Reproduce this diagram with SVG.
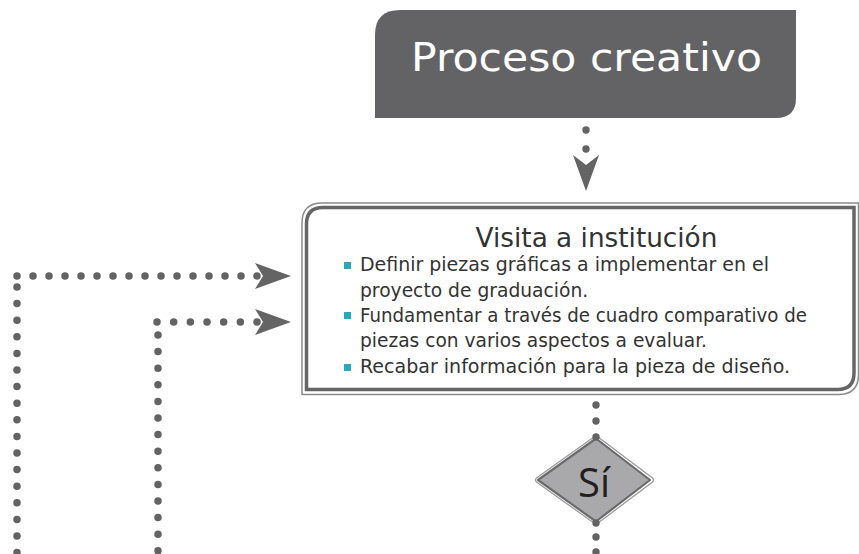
<svg xmlns="http://www.w3.org/2000/svg" width="859" height="554" viewBox="0 0 859 554">
<style>
.dots{fill:none;stroke:#636363;stroke-width:7.5;stroke-linecap:round}
.dot{fill:#636363}
.head{fill:#646464}
.body{font-family:"DejaVu Sans",sans-serif;font-size:18.7px;fill:#333333}
.bullet{fill:#2aa8bb}
</style>
<rect width="859" height="554" fill="#ffffff"/>
<g id="title">
<path d="M400,10 L796,10 L796,98 Q796,118 776,118 L375,118 L375,35 Q375,10 400,10 Z" fill="#636365"/>
<text x="411" y="71" font-family="'DejaVu Sans',sans-serif" font-size="39" fill="#ffffff" textLength="351" lengthAdjust="spacingAndGlyphs">Proceso creativo</text>
</g>
<g id="visita">
<path d="M302,394.5 L302,223 Q302,203 322,203 L858.5,203 L858.5,374.5 Q858.5,394.5 838.5,394.5 Z" fill="none" stroke="#8a8a8a" stroke-width="1.5"/>
<path d="M306.5,389.5 L306.5,224 Q306.5,207.5 323,207.5 L854,207.5 L854,373 Q854,389.5 837.5,389.5 Z" fill="#ffffff" stroke="#666666" stroke-width="3.5"/>
<text x="596.5" y="247" text-anchor="middle" font-family="'DejaVu Sans',sans-serif" font-size="26.3" fill="#333333">Visita a institución</text>
<rect class="bullet" x="344" y="262" width="7" height="7"/>
<rect class="bullet" x="344" y="312" width="7" height="7"/>
<rect class="bullet" x="344" y="364" width="7" height="7"/>
<text class="body" x="360" y="271" textLength="409" lengthAdjust="spacingAndGlyphs">Definir piezas gráficas a implementar en el</text>
<text class="body" x="360" y="297">proyecto de graduación.</text>
<text class="body" x="360" y="322" textLength="447" lengthAdjust="spacingAndGlyphs">Fundamentar a través de cuadro comparativo de</text>
<text class="body" x="360" y="347" textLength="347" lengthAdjust="spacingAndGlyphs">piezas con varios aspectos a evaluar.</text>
<text class="body" x="360" y="373" textLength="430" lengthAdjust="spacingAndGlyphs">Recabar información para la pieza de diseño.</text>
</g>
<g id="si">
<path d="M596,435.5 L652.5,478 Q654.5,480 652.5,482 L596,524.5 L536.5,482 Q534.5,480 536.5,478 Z" fill="none" stroke="#9a9a9a" stroke-width="1.3"/>
<path d="M596,438.5 L650,480 L596,521.5 L538,480 Z" fill="#a9a9ab" stroke="#6b6b6b" stroke-width="2.2" stroke-linejoin="round"/>
<text x="594" y="497" text-anchor="middle" font-family="'Open Sans',sans-serif" font-size="40" fill="#231f20">Sí</text>
</g>
<g id="connectors">
<circle class="dot" cx="586" cy="130" r="3.7"/>
<circle class="dot" cx="586" cy="149" r="3.7"/>
<path class="head" d="M573,155 L586,165 L599,155 L586,191 Z"/>
<path class="dots" d="M17,276 L257.5,276" stroke-dasharray="0 16"/>
<path class="dots" d="M17,287 L17,560" stroke-dasharray="0 16.6"/>
<path class="head" d="M255,263 L291,276 L255,289 L263,276 Z"/>
<path class="dots" d="M157,322 L257.5,322" stroke-dasharray="0 16.67"/>
<path class="dots" d="M158,335 L158,560" stroke-dasharray="0 16.6"/>
<path class="head" d="M255,309 L291,322 L255,335 L263,322 Z"/>
<circle class="dot" cx="596" cy="405" r="3.7"/>
<circle class="dot" cx="596" cy="421" r="3.7"/>
<circle class="dot" cx="596" cy="437" r="3.7"/>
<circle class="dot" cx="596" cy="523" r="3.7"/>
<circle class="dot" cx="596" cy="537" r="3.7"/>
<circle class="dot" cx="596" cy="552" r="3.7"/>
</g>
</svg>
